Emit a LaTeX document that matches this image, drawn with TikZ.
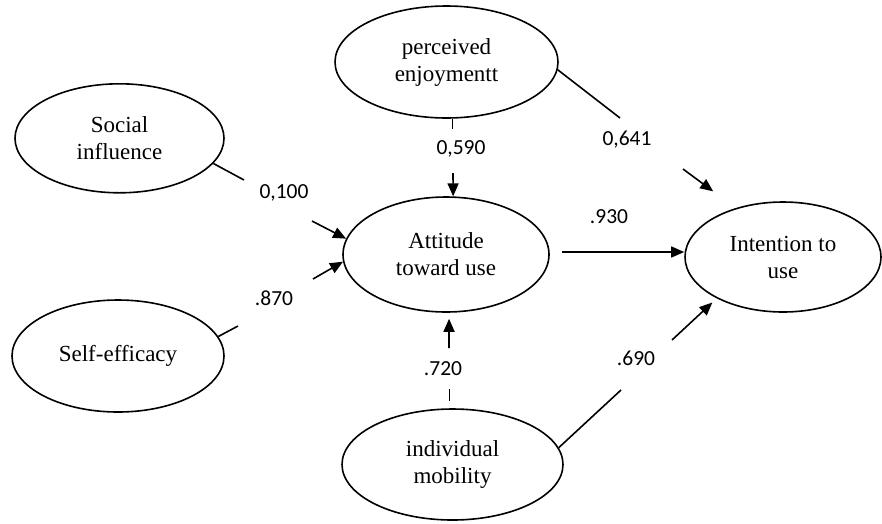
\documentclass[tikz,border=0pt]{standalone}
\usepackage{fontspec}
\setmainfont{Liberation Serif}
\newfontfamily\labfont{Carlito}
\usetikzlibrary{shapes.geometric,arrows.meta}
\begin{document}
\begin{tikzpicture}[x=1pt,y=-1pt,
  lv/.style={ellipse,draw,line width=1.6pt,inner sep=0pt,align=center,font=\fontsize{23}{27}\selectfont},
  wt/.style={font=\labfont\fontsize{21.5}{25}\selectfont,text height=0.63em,text depth=0pt,inner sep=0pt},
  ln/.style={line width=1.6pt},
  arr/.style={line width=1.6pt,-{Triangle[length=13pt,width=11pt]}}]
\useasboundingbox (0,0) rectangle (882,523);
% latent variables
\node[lv,minimum width=209pt,minimum height=109pt] (soc) at (119.5,138.3) {Social\\influence};
\node[lv,minimum width=212pt,minimum height=112pt] (slf) at (118,356) {Self-efficacy};
\node[lv,minimum width=223pt,minimum height=112pt] (per) at (446.5,62) {perceived\\enjoymentt};
\node[lv,minimum width=206pt,minimum height=115pt] (att) at (446,254.5) {Attitude\\toward use};
\node[lv,minimum width=196pt,minimum height=110pt] (int) at (783,257) {Intention to\\use};
\node[lv,minimum width=221pt,minimum height=111pt] (mob) at (452.5,464.5) {individual\\mobility};
% Social influence -> Attitude
\coordinate (s1) at (244,180);
\coordinate (s2) at (312,221);
\draw[ln] (soc.-15) -- (s1);
\node[wt] (l1) at (284,195) {0,100};
\draw[arr] (s2) -- (att.171);
% Self-efficacy -> Attitude
\coordinate (e1) at (238,326);
\coordinate (e2) at (313,279);
\draw[ln] (slf.11) -- (e1);
\node[wt] (l2) at (274,302) {.870};
\draw[arr] (e2) -- (att.184);
% perceived enjoyment -> Attitude
\coordinate (p2) at (453,173);
\draw[ln] (per.-84) -- ++(0,10);
\node[wt] (l3) at (461,151) {0,590};
\draw[arr] (p2) -- (att.83);
% perceived enjoyment -> Intention
\coordinate (q1) at (620,118);
\coordinate (q2) at (683,169);
\draw[ln] (per.-4) -- (q1);
\node[wt] (l4) at (627,142) {0,641};
\draw[arr,shorten >=28pt] (q2) -- (int.134);
% Attitude -> Intention
\coordinate (h) at (0,252);
\draw[arr,shorten <=12pt] (att.east |- h) -- (int.west |- h);
\node[wt] (l5) at (609,220) {.930};
% individual mobility -> Attitude
\coordinate (m2) at (449,348);
\draw[ln,shorten <=7pt] (mob.93) -- ++(0,-19);
\node[wt] (l6) at (443,372) {.720};
\draw[arr,shorten >=6pt] (m2) -- (att.-87);
% individual mobility -> Intention
\coordinate (n1) at (621,390);
\coordinate (n2) at (672,340);
\draw[ln] (mob.9) -- (n1);
\node[wt] (l7) at (636,362) {.690};
\draw[arr,shorten >=6pt] (n2) -- (int.212);
\end{tikzpicture}
\end{document}
